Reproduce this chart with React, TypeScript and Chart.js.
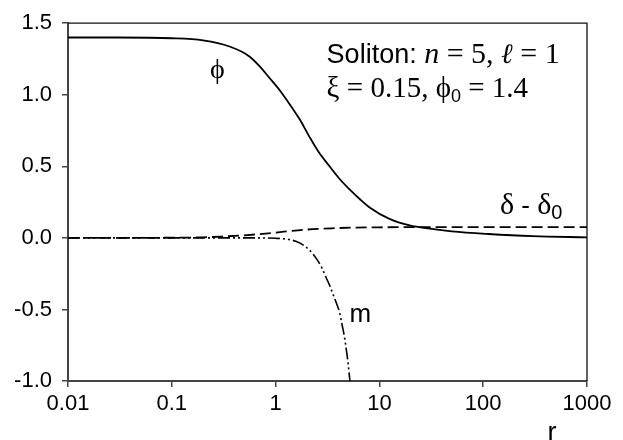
import React, { useEffect, useRef } from "react";
import { Chart, registerables } from "chart.js";

Chart.register(...registerables);

// r values and series values
const phiR = [0.01, 0.03, 0.1, 0.2, 0.36, 0.56, 0.7, 0.87, 1.1, 1.36, 1.7, 2.12, 2.6, 3.31, 4.1, 5.16, 6.5, 8.05, 12.5, 19.6, 30.5, 50, 112, 300, 1000];
const phiVals = [1.4, 1.4, 1.395, 1.38, 1.337, 1.268, 1.2, 1.119, 1.03, 0.936, 0.83, 0.706, 0.6, 0.5, 0.415, 0.339, 0.27, 0.213, 0.133, 0.087, 0.064, 0.045, 0.027, 0.012, 0.004];

const deltaR = [0.01, 0.1, 0.2, 0.3, 0.5, 0.8, 1.2, 2, 3.5, 6, 10, 30, 1000];
const deltaVals = [0, 0.001, 0.004, 0.009, 0.018, 0.03, 0.043, 0.058, 0.067, 0.072, 0.074, 0.075, 0.075];

const mR = [0.01, 0.5, 1.0, 1.36, 1.7, 2.12, 2.5, 2.8, 3.08, 3.35, 3.6, 3.85, 4.13, 4.35, 4.6, 4.8, 5.0, 5.2];
const mVals = [0, 0, -0.003, -0.012, -0.035, -0.085, -0.15, -0.212, -0.28, -0.34, -0.4, -0.455, -0.52, -0.6, -0.69, -0.78, -0.88, -1.0];

const xTicks = [0.01, 0.1, 1, 10, 100, 1000];
const xTickLabels = ["0.01", "0.1", "1", "10", "100", "1000"];
const yTicks = [-1.0, -0.5, 0.0, 0.5, 1.0, 1.5];

const SANS = "'Liberation Sans', Arial, sans-serif";
const SERIF = "'Liberation Serif', 'Times New Roman', serif";

type Run = { text: string; font: string; dy?: number };

function drawRuns(ctx: CanvasRenderingContext2D, x: number, y: number, runs: Run[]) {
  let cx = x;
  for (const r of runs) {
    ctx.font = r.font;
    ctx.fillText(r.text, cx, y + (r.dy || 0));
    cx += ctx.measureText(r.text).width;
  }
}

const annotatePlugin = {
  id: "annotate",
  afterDraw(chart: any) {
    const { ctx, chartArea: a, scales } = chart;
    const xs = scales.x;
    const ys = scales.y;
    ctx.save();
    // frame top/right
    ctx.strokeStyle = "#111";
    ctx.lineWidth = 1.3;
    ctx.beginPath();
    ctx.moveTo(a.left, a.top);
    ctx.lineTo(a.right, a.top);
    ctx.lineTo(a.right, a.bottom);
    ctx.stroke();

    ctx.fillStyle = "#000";
    ctx.textBaseline = "alphabetic";
    ctx.textAlign = "left";

    // Soliton legend text
    const lx = xs.getPixelForValue(3.1);
    drawRuns(ctx, lx, ys.getPixelForValue(1.225), [
      { text: "Soliton: ", font: `27px ${SANS}` },
      { text: "n", font: `italic 30px ${SERIF}` },
      { text: " = 5, ", font: `30px ${SERIF}` },
      { text: "\u2113", font: `italic 28px ${SERIF}` },
      { text: " = 1", font: `30px ${SERIF}` },
    ]);
    drawRuns(ctx, lx, ys.getPixelForValue(0.985), [
      { text: "\u03BE = 0.15, ", font: `29px ${SERIF}` },
      { text: "\u03D5", font: `29px ${SERIF}` },
      { text: "0", font: `18px ${SANS}`, dy: 5 },
      { text: " = 1.4", font: `29px ${SERIF}` },
    ]);

    // delta label
    drawRuns(ctx, xs.getPixelForValue(145), ys.getPixelForValue(0.165), [
      { text: "\u03B4", font: `30px ${SERIF}` },
      { text: " - ", font: `26px ${SANS}` },
      { text: "\u03B4", font: `30px ${SERIF}` },
      { text: "0", font: `20px ${SANS}`, dy: 5 },
    ]);

    // phi label
    ctx.textAlign = "center";
    ctx.font = `28px ${SERIF}`;
    ctx.fillText("\u03D5", xs.getPixelForValue(0.275), ys.getPixelForValue(1.12));

    // m label
    ctx.textAlign = "left";
    ctx.font = `26px ${SANS}`;
    ctx.fillText("m", xs.getPixelForValue(5.16), ys.getPixelForValue(-0.59));

    // axis title r
    ctx.textAlign = "center";
    ctx.font = `27px ${SANS}`;
    ctx.fillText("r", xs.getPixelForValue(460), a.bottom + 60);
    ctx.restore();
  },
};

export default function App() {
  const ref = useRef<HTMLCanvasElement | null>(null);
  useEffect(() => {
    if (!ref.current) return;
    const toPts = (xsArr: number[], ysArr: number[]) => xsArr.map((x, i) => ({ x, y: ysArr[i] }));
    const chart = new Chart(ref.current, {
      type: "line",
      data: {
        datasets: [
          {
            label: "phi",
            data: toPts(phiR, phiVals),
            borderColor: "#000",
            borderWidth: 1.8,
            pointRadius: 0,
            cubicInterpolationMode: "monotone",
          },
          {
            label: "delta - delta0",
            data: toPts(deltaR, deltaVals),
            borderColor: "#000",
            borderWidth: 1.8,
            borderDash: [11, 5],
            pointRadius: 0,
            cubicInterpolationMode: "monotone",
          },
          {
            label: "m",
            data: toPts(mR, mVals),
            borderColor: "#000",
            borderWidth: 1.6,
            borderDash: [12, 3, 2, 3, 2, 3],
            pointRadius: 0,
            cubicInterpolationMode: "monotone",
          },
        ],
      },
      options: {
        animation: false,
        responsive: false,
        devicePixelRatio: 1,
        layout: { padding: { top: 18, right: 36, left: 0, bottom: 0 } },
        plugins: { legend: { display: false }, tooltip: { enabled: false } },
        scales: {
          x: {
            type: "logarithmic",
            min: 0.01,
            max: 1000,
            afterBuildTicks: (s: any) => {
              s.ticks = xTicks.map((v) => ({ value: v }));
            },
            afterFit: (s: any) => {
              s.height = 59;
            },
            ticks: {
              autoSkip: false,
              maxRotation: 0,
              padding: 4,
              color: "#000",
              font: { family: SANS, size: 22 },
              callback: (v: any) => {
                const i = xTicks.indexOf(Number(v));
                return i >= 0 ? xTickLabels[i] : "";
              },
            },
            grid: { drawOnChartArea: false, drawTicks: true, tickLength: 6, color: "#444", lineWidth: 1.5 },
            border: { display: true, color: "#444", width: 2 },
          },
          y: {
            type: "linear",
            min: -1,
            max: 1.5,
            afterBuildTicks: (s: any) => {
              s.ticks = yTicks.map((v) => ({ value: v }));
            },
            afterFit: (s: any) => {
              s.width = 68;
            },
            ticks: {
              padding: 10,
              color: "#000",
              font: { family: SANS, size: 22 },
              callback: (v: any) => Number(v).toFixed(1),
            },
            grid: { drawOnChartArea: false, drawTicks: true, tickLength: 6, color: "#444", lineWidth: 1.5 },
            border: { display: true, color: "#444", width: 2 },
          },
        },
      },
      plugins: [annotatePlugin],
    });
    return () => chart.destroy();
  }, []);
  return (
    <div style={{ position: "absolute", left: 0, top: 0, width: 623, height: 440, background: "#fff" }}>
      <canvas ref={ref} width={623} height={440} style={{ display: "block" }} />
    </div>
  );
}
